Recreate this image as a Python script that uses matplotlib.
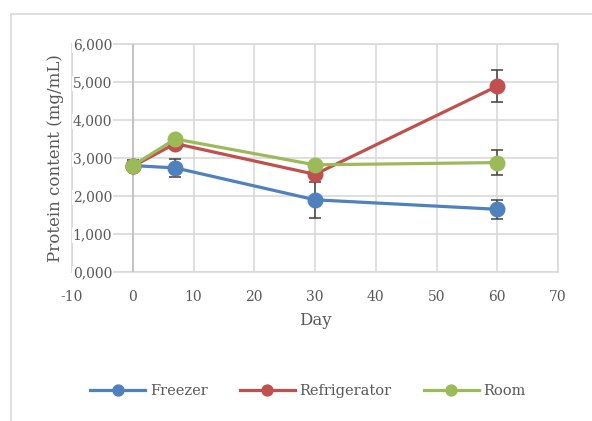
import matplotlib.pyplot as plt
from matplotlib.patches import Rectangle

days = [0, 7, 30, 60]
freezer = [2800, 2740, 1900, 1650]
refrigerator = [2780, 3380, 2570, 4890]
room = [2800, 3500, 2820, 2880]
freezer_err = [150, 230, 470, 250]
refrigerator_err = [100, 80, 100, 420]
room_err = [100, 80, 80, 320]

ytick_vals = [0, 1000, 2000, 3000, 4000, 5000, 6000]
ytick_labels = ["0,000", "1,000", "2,000", "3,000", "4,000", "5,000", "6,000"]
xtick_vals = [-10, 0, 10, 20, 30, 40, 50, 60, 70]

plt.rcParams['font.family'] = ['DejaVu Serif']
plt.rcParams['axes.unicode_minus'] = False
text_color = "#595959"
grid_color = "#d9d9d9"

fig = plt.figure(figsize=(5.92, 4.21), dpi=100)
fig.patches.append(Rectangle((11 / 592, -0.1), 1.2, 1 - 14 / 421 + 0.1, transform=fig.transFigure,
                             fill=False, edgecolor=grid_color, linewidth=1.2))
ax = fig.add_axes([72 / 592, 1 - 272 / 421, (558 - 72) / 592, (272 - 44) / 421])

series = [
    ("Freezer", freezer, freezer_err, "#4f81bd"),
    ("Refrigerator", refrigerator, refrigerator_err, "#c0504d"),
    ("Room", room, room_err, "#9bbb59"),
]
for name, vals, err, color in series:
    ax.errorbar(days, vals, yerr=err, fmt="none", ecolor="#404040", elinewidth=1.1,
                capsize=4, capthick=1.1, zorder=3)
    ax.plot(days, vals, color=color, linewidth=2.3, marker="o", markersize=10.5,
            label=name, zorder=4)

ax.set_xlim(-10, 70)
ax.set_ylim(0, 6000)
ax.set_xticks(xtick_vals)
ax.set_yticks(ytick_vals)
ax.set_yticklabels(ytick_labels)
ax.grid(True, color=grid_color, linewidth=1.2)
ax.set_axisbelow(True)
ax.axvline(0, color="#bfbfbf", linewidth=1.2, zorder=1)
for s in ax.spines.values():
    s.set_color(grid_color)
    s.set_linewidth(1.2)
    s.set_zorder(0.3)

ax.tick_params(axis="both", length=0, colors=text_color, labelsize=10)
ax.tick_params(axis="x", pad=13)
ax.tick_params(axis="y", pad=-29)
for lbl in ax.get_yticklabels():
    lbl.set_bbox(dict(facecolor="white", edgecolor="none", pad=0.5))

ax.set_xlabel("Day", color=text_color, fontsize=12, labelpad=6)
ax.set_ylabel("Protein content (mg/mL)", color=text_color, fontsize=12)
ax.yaxis.set_label_coords(-0.017, 0.5)

fig.legend(loc="center", bbox_to_anchor=(0.52, 0.071), ncol=3, frameon=False,
           fontsize=10.5, labelcolor=text_color, handlelength=3.8, markerscale=0.75,
           handletextpad=0.3, columnspacing=2.2)

fig.savefig("out.png", dpi=100)
